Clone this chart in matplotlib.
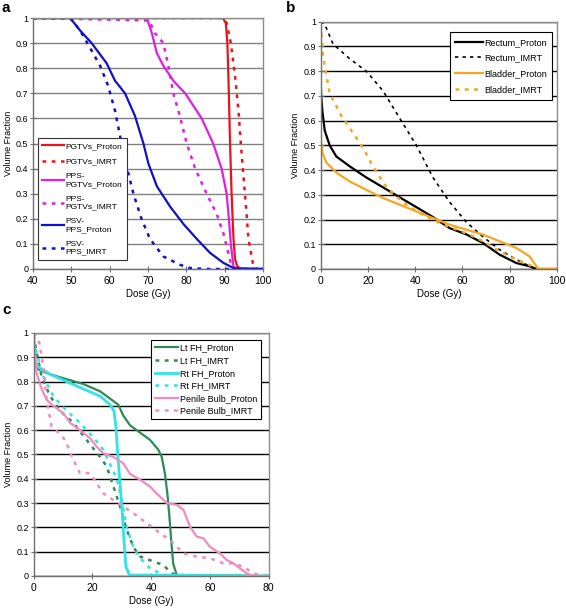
import matplotlib
matplotlib.use('Agg')
import matplotlib.pyplot as plt

plt.rcParams['font.family'] = ['Liberation Sans', 'DejaVu Sans']

# ---------- panel a ----------
pgtv_p_x = [40, 89.5, 90.3, 90.7, 91.0, 91.4, 91.8, 92.3, 92.7, 93.3, 94, 100]
pgtv_p_y = [1, 1, 0.98, 0.9, 0.75, 0.5, 0.3, 0.12, 0.04, 0.01, 0.003, 0]
pgtv_i_x = [40, 89.5, 90.5, 91.6, 92.7, 93.6, 94.2, 94.9, 95.6, 96.2, 97.5, 98.5, 100]
pgtv_i_y = [1, 1, 0.98, 0.9, 0.77, 0.63, 0.5, 0.37, 0.24, 0.12, 0.01, 0, 0]
pps_p_x = [40, 69.7, 71.0, 72.3, 74.0, 76.6, 79.7, 84.0, 87.0, 89.2, 90.5, 91.1, 91.6, 92.3, 93, 100]
pps_p_y = [1, 1, 0.94, 0.86, 0.81, 0.75, 0.7, 0.6, 0.5, 0.4, 0.3, 0.2, 0.1, 0.01, 0, 0]
pps_i_x = [40, 70.3, 71.8, 74.0, 75.3, 76.6, 78.3, 80.1, 82.3, 85.3, 87.9, 89.7, 91.0, 91.8, 93, 100]
pps_i_y = [1, 0.99, 0.94, 0.9, 0.81, 0.7, 0.61, 0.5, 0.4, 0.3, 0.22, 0.14, 0.06, 0.01, 0, 0]
psv_p_x = [40, 49.7, 52.3, 55.3, 59.2, 61.4, 64.0, 66.6, 68.8, 70.1, 72.3, 75.7, 79.2, 82.7, 86.2, 89.7, 92.3, 95, 100]
psv_p_y = [1, 1, 0.95, 0.9, 0.82, 0.75, 0.7, 0.61, 0.5, 0.42, 0.33, 0.25, 0.18, 0.12, 0.064, 0.024, 0.004, 0, 0]
psv_i_x = [40, 49.7, 52.3, 55.3, 57.5, 59.6, 61.4, 63.1, 64.4, 66.2, 68.3, 70.5, 74.0, 78.3, 80.9, 85, 100]
psv_i_y = [1, 1, 0.95, 0.87, 0.81, 0.73, 0.63, 0.5, 0.41, 0.3, 0.2, 0.12, 0.05, 0.017, 0.004, 0, 0]

# ---------- panel b ----------
rect_p_x = [0, 0.2, 0.7, 1.7, 3.8, 6.6, 12.3, 19.3, 26.4, 33.4, 40.5, 47.5, 54.6, 61.6, 68.7, 75.7, 82.8, 88.4, 91.3, 100]
rect_p_y = [0.76, 0.7, 0.64, 0.56, 0.5, 0.455, 0.415, 0.37, 0.33, 0.29, 0.25, 0.21, 0.165, 0.14, 0.105, 0.058, 0.024, 0.011, 0, 0]
rect_i_x = [0, 1.7, 5.2, 12.3, 19.3, 26.4, 33.4, 40.5, 47.5, 54.6, 61.6, 68.7, 75.7, 82.8, 88.4, 91, 100]
rect_i_y = [1.0, 0.99, 0.91, 0.85, 0.8, 0.72, 0.61, 0.5, 0.37, 0.27, 0.19, 0.13, 0.078, 0.038, 0.011, 0, 0]
blad_p_x = [0, 0, 0.1, 0.7, 2.4, 6.6, 12.3, 19.3, 26.4, 33.4, 40.5, 47.5, 54.6, 61.6, 68.7, 75.7, 82.8, 88.4, 91.3, 92, 100]
blad_p_y = [1.0, 0.6, 0.52, 0.47, 0.43, 0.39, 0.354, 0.32, 0.287, 0.26, 0.233, 0.206, 0.179, 0.159, 0.139, 0.112, 0.085, 0.051, 0.011, 0, 0]
blad_i_x = [0, 1.0, 3.8, 8.7, 13.7, 17.9, 22.1, 27.8, 34.8, 41.9, 48.9, 56.0, 63.0, 68.7, 75.7, 82.8, 89.8, 92, 100]
blad_i_y = [0.99, 0.86, 0.71, 0.62, 0.55, 0.49, 0.415, 0.33, 0.27, 0.226, 0.192, 0.165, 0.139, 0.112, 0.071, 0.038, 0.011, 0, 0]

# ---------- panel c ----------
ltfh_p_x = [0, 1.6, 5.6, 11.2, 16.9, 22.6, 26.0, 28.8, 30.5, 32.8, 36.2, 39.6, 42.4, 43.6, 44.7, 45.5, 46.2, 46.9, 47.5, 48.7, 80]
ltfh_p_y = [0.88, 0.85, 0.83, 0.81, 0.79, 0.76, 0.73, 0.705, 0.66, 0.62, 0.59, 0.56, 0.52, 0.49, 0.42, 0.34, 0.245, 0.135, 0.05, 0.004, 0]
ltfh_i_x = [0, 1.0, 2.7, 5.6, 9.0, 13.5, 18.0, 22.6, 24.9, 27.1, 29.4, 31.7, 33.9, 36.2, 40.7, 44.1, 46.4, 48.1, 80]
ltfh_i_y = [0.99, 0.92, 0.82, 0.74, 0.68, 0.63, 0.56, 0.49, 0.45, 0.37, 0.286, 0.19, 0.12, 0.08, 0.06, 0.045, 0.018, 0.004, 0]
rtfh_p_x = [0, 1.6, 5.6, 11.2, 16.9, 22.6, 26.0, 27.3, 28.0, 28.5, 29.2, 30.0, 30.8, 31.4, 32.6, 80]
rtfh_p_y = [0.9, 0.86, 0.83, 0.8, 0.77, 0.74, 0.705, 0.68, 0.615, 0.52, 0.41, 0.286, 0.135, 0.038, 0.004, 0]
rtfh_i_x = [0, 1.0, 3.3, 6.7, 11.2, 15.8, 20.3, 23.7, 26.0, 28.3, 30.0, 31.7, 33.9, 36.2, 39.6, 43.0, 45.3, 80]
rtfh_i_y = [0.97, 0.92, 0.82, 0.74, 0.68, 0.63, 0.57, 0.52, 0.46, 0.4, 0.31, 0.2, 0.12, 0.073, 0.032, 0.011, 0, 0]
pb_p_x = [0, 1.0, 2.7, 4.4, 6.7, 10.1, 12.4, 15.8, 19.2, 21.4, 23.7, 27.1, 30.5, 32.8, 36.2, 39.6, 41.8, 45.3, 48.7, 51.0, 53.2, 55.5, 57.8, 60.0, 63.4, 65.7, 68.0, 70.2, 72.5, 74.8, 80]
pb_p_y = [0.99, 0.835, 0.77, 0.725, 0.7, 0.67, 0.63, 0.6, 0.567, 0.533, 0.505, 0.49, 0.464, 0.42, 0.396, 0.368, 0.34, 0.3, 0.293, 0.272, 0.203, 0.162, 0.155, 0.12, 0.093, 0.066, 0.052, 0.032, 0.011, 0, 0]
pb_i_x = [0, 1.9, 3.3, 4.4, 6.1, 8.4, 10.7, 13.5, 15.8, 19.2, 21.4, 23.7, 27.1, 30.5, 34.0, 38.5, 43.0, 46.4, 51.0, 55.5, 60.0, 64.6, 68.0, 71.4, 74.8, 78.2, 80]
pb_i_y = [1.0, 0.96, 0.86, 0.725, 0.615, 0.59, 0.56, 0.478, 0.423, 0.423, 0.382, 0.34, 0.313, 0.286, 0.258, 0.217, 0.176, 0.148, 0.093, 0.08, 0.073, 0.052, 0.052, 0.038, 0.011, 0, 0]

dot = (0, (1.5, 2.2))
LWs = 1.6
LWd = 1.8

fig = plt.figure(figsize=(5.66, 6.13), dpi=100)
axa = fig.add_axes([0.0583, 0.5612, 0.4064, 0.4094])
axb = fig.add_axes([0.5666, 0.5612, 0.4175, 0.4034])
axc = fig.add_axes([0.0595, 0.0604, 0.4152, 0.3964])


def style(ax, xlim, xticks, gridcol):
    ax.set_xlim(xlim)
    ax.set_ylim(0, 1)
    ax.set_xticks(xticks)
    ax.set_yticks([i / 10 for i in range(11)])
    ax.set_yticklabels(['0', '0.1', '0.2', '0.3', '0.4', '0.5', '0.6', '0.7', '0.8', '0.9', '1'])
    ax.grid(axis='y', color=gridcol, linewidth=1.0)
    ax.set_axisbelow(True)
    for s in ['top', 'right']:
        ax.spines[s].set_color('#8c8c8c')
        ax.spines[s].set_linewidth(1.0)
    for s in ['left', 'bottom']:
        ax.spines[s].set_color('#707070')
        ax.spines[s].set_linewidth(1.0)
    ax.tick_params(axis='x', labelsize=7.5, direction='inout', length=4, color='#707070', pad=3)
    ax.tick_params(axis='y', labelsize=6.5, direction='inout', length=4, color='#707070', pad=1.5)
    ax.set_xlabel('Dose (Gy)', fontsize=7, labelpad=2)
    ax.set_ylabel('Volume Fraction', fontsize=6.5, labelpad=2)
    ax.margins(0)


# a
style(axa, (40, 100), [40, 50, 60, 70, 80, 90, 100], '#808080')
axa.plot(pgtv_p_x, pgtv_p_y, color='#e8141c', lw=LWs, label='PGTVs_Proton')
axa.plot(pgtv_i_x, pgtv_i_y, color='#e8141c', lw=LWd, ls=dot, label='PGTVs_IMRT')
axa.plot(pps_p_x, pps_p_y, color='#e020e0', lw=LWs, label='PPS-\nPGTVs_Proton')
axa.plot(pps_i_x, pps_i_y, color='#e020e0', lw=LWd, ls=dot, label='PPS-\nPGTVs_IMRT')
axa.plot(psv_p_x, psv_p_y, color='#1010c8', lw=LWs, label='PSV-\nPPS_Proton')
axa.plot(psv_i_x, psv_i_y, color='#1010c8', lw=LWd, ls=dot, label='PSV-\nPPS_IMRT')
leg = axa.legend(loc='lower left', bbox_to_anchor=(0.005, 0.02), fontsize=6, fancybox=False,
                 edgecolor='#333333', framealpha=1, handlelength=2.6, handletextpad=0.2,
                 labelspacing=0.9, borderpad=0.5)
leg.get_frame().set_linewidth(0.8)

# b
style(axb, (0, 100), [0, 20, 40, 60, 80, 100], 'black')
axb.plot(rect_p_x, rect_p_y, color='black', lw=LWs, label='Rectum_Proton')
axb.plot(rect_i_x, rect_i_y, color='black', lw=1.2, ls=(0, (2, 2.5)), label='Rectum_IMRT')
axb.plot(blad_p_x, blad_p_y, color='#f5a623', lw=LWs, label='Bladder_Proton')
axb.plot(blad_i_x, blad_i_y, color='#f5a623', lw=LWd, ls=dot, label='Bladder_IMRT')
leg = axb.legend(loc='upper right', bbox_to_anchor=(1.0, 0.975), fontsize=6.5, fancybox=False,
                 edgecolor='black', framealpha=1, handlelength=3.0, handletextpad=0.2,
                 labelspacing=0.75, borderpad=0.6)
leg.get_frame().set_linewidth(0.8)

# c
style(axc, (0, 80), [0, 20, 40, 60, 80], 'black')
axc.plot(ltfh_p_x, ltfh_p_y, color='#2e8b57', lw=LWs, label='Lt FH_Proton')
axc.plot(ltfh_i_x, ltfh_i_y, color='#2e8b57', lw=LWd, ls=dot, label='Lt FH_IMRT')
axc.plot(rtfh_p_x, rtfh_p_y, color='#33e3e3', lw=LWs + 0.4, label='Rt FH_Proton')
axc.plot(rtfh_i_x, rtfh_i_y, color='#33e3e3', lw=LWd, ls=dot, label='Rt FH_IMRT')
axc.plot(pb_p_x, pb_p_y, color='#f08cbf', lw=LWs, label='Penile Bulb_Proton')
axc.plot(pb_i_x, pb_i_y, color='#f08cbf', lw=LWd, ls=dot, label='Penile Bulb_IMRT')
leg = axc.legend(loc='upper right', bbox_to_anchor=(0.985, 0.99), fontsize=6.5, fancybox=False,
                 edgecolor='black', framealpha=1, handlelength=2.6, handletextpad=0.2,
                 labelspacing=0.4, borderpad=0.4)
leg.get_frame().set_linewidth(0.8)

fig.text(0.002, 0.998, 'a', fontsize=11, fontweight='bold', va='top', ha='left')
fig.text(0.505, 0.998, 'b', fontsize=11, fontweight='bold', va='top', ha='left')
fig.text(0.004, 0.505, 'c', fontsize=11, fontweight='bold', va='top', ha='left')

fig.savefig('out.png', dpi=100)
